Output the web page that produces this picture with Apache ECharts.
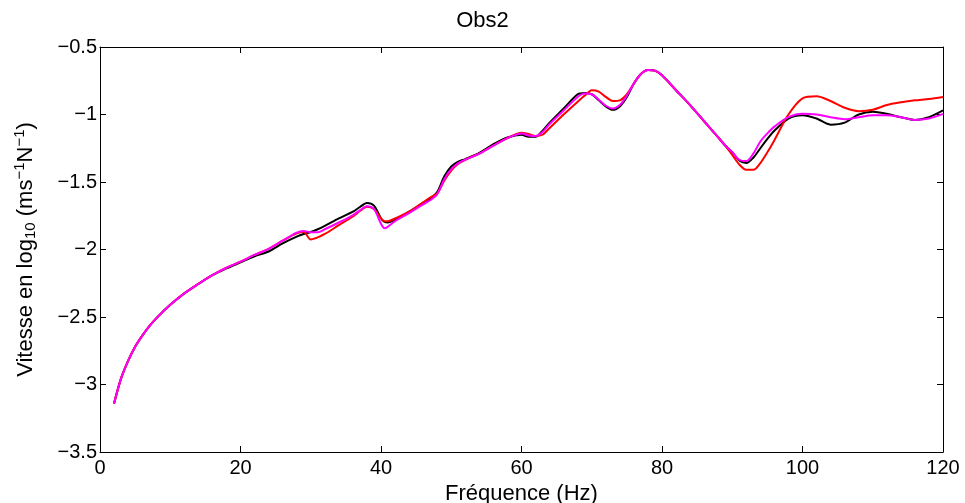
<!DOCTYPE html>
<html>
<head>
<meta charset="utf-8">
<script src="https://cdn.jsdelivr.net/npm/echarts@6/dist/echarts.min.js"></script>
<style>html,body{margin:0;padding:0;background:#fff}#c{width:965px;height:503px}</style>
</head>
<body>
<div id="c"></div>
<script>
var freq = [2,3,4,5,6,7,8,10,12,14,16,18,20,22,24,26,28,29,30,31,32,34,36,37,38,39,40,40.5,41,42,44,46,47,48,49,50,51,52,54,56,58,60,61,62,63,64,66,68,69,70,71,72,73,74,75,76,77,78,79,80,82,84,86,88,89,90,91,92,93,94,95,96,98,100,102,104,106,108,110,112,114,116,118,120];
var blackVals = [-3.14,-2.955,-2.825,-2.72,-2.64,-2.57,-2.51,-2.41,-2.325,-2.255,-2.19,-2.14,-2.095,-2.05,-2.015,-1.955,-1.905,-1.885,-1.87,-1.85,-1.825,-1.77,-1.72,-1.685,-1.655,-1.675,-1.77,-1.795,-1.80,-1.78,-1.72,-1.655,-1.625,-1.575,-1.46,-1.385,-1.35,-1.33,-1.285,-1.22,-1.17,-1.15,-1.165,-1.165,-1.12,-1.06,-0.955,-0.85,-0.84,-0.85,-0.895,-0.94,-0.965,-0.94,-0.87,-0.77,-0.70,-0.67,-0.675,-0.71,-0.82,-0.93,-1.05,-1.17,-1.23,-1.28,-1.34,-1.36,-1.32,-1.25,-1.18,-1.12,-1.03,-1.005,-1.03,-1.075,-1.06,-1.00,-0.98,-0.995,-1.02,-1.04,-1.02,-0.97];
var redVals = [-3.14,-2.955,-2.825,-2.72,-2.64,-2.57,-2.51,-2.41,-2.325,-2.255,-2.19,-2.135,-2.09,-2.04,-1.995,-1.935,-1.88,-1.87,-1.925,-1.91,-1.885,-1.82,-1.755,-1.715,-1.683,-1.70,-1.77,-1.79,-1.79,-1.77,-1.72,-1.65,-1.615,-1.585,-1.49,-1.415,-1.365,-1.335,-1.29,-1.23,-1.175,-1.135,-1.145,-1.16,-1.15,-1.10,-1.00,-0.905,-0.86,-0.82,-0.83,-0.87,-0.90,-0.895,-0.85,-0.77,-0.70,-0.67,-0.675,-0.71,-0.82,-0.93,-1.05,-1.17,-1.23,-1.30,-1.37,-1.41,-1.41,-1.36,-1.28,-1.19,-1.00,-0.88,-0.865,-0.90,-0.95,-0.975,-0.965,-0.93,-0.91,-0.895,-0.885,-0.87];
var magentaVals = [-3.14,-2.955,-2.825,-2.72,-2.64,-2.57,-2.51,-2.41,-2.325,-2.255,-2.19,-2.135,-2.09,-2.04,-1.995,-1.935,-1.875,-1.863,-1.872,-1.872,-1.85,-1.80,-1.745,-1.71,-1.68,-1.70,-1.81,-1.843,-1.83,-1.79,-1.73,-1.665,-1.635,-1.59,-1.48,-1.405,-1.36,-1.335,-1.29,-1.23,-1.175,-1.14,-1.155,-1.16,-1.13,-1.07,-0.97,-0.87,-0.845,-0.85,-0.89,-0.935,-0.955,-0.93,-0.86,-0.77,-0.70,-0.67,-0.675,-0.71,-0.82,-0.93,-1.05,-1.17,-1.23,-1.28,-1.335,-1.345,-1.29,-1.20,-1.14,-1.09,-1.02,-0.995,-1.00,-1.02,-1.035,-1.02,-1.005,-1.005,-1.02,-1.04,-1.03,-0.995];
var xTicks = [0,20,40,60,80,100,120];
var yTicks = [-3.5,-3,-2.5,-2,-1.5,-1,-0.5];
var titleText = 'Obs2';
var xName = 'Fréquence (Hz)';

function pairs(v){ return freq.map(function(f,i){ return [f, v[i]]; }); }
function fmtY(v){ return (v < 0 ? '\u2212' : '') + String(Math.abs(v)); }
var FONT = 'Liberation Sans';
var chart = echarts.init(document.getElementById('c'), null, {renderer:'canvas'});
var axisCommon = {
  axisLine:{show:true, onZero:false, lineStyle:{color:'#000', width:1}},
  axisTick:{show:true, inside:true, length:6, lineStyle:{color:'#000', width:1}},
  splitLine:{show:false}
};
chart.setOption({
  animation:false,
  backgroundColor:'#fff',
  title:{text:titleText, left:'center', top:5, textStyle:{fontFamily:FONT, fontSize:22, fontWeight:'normal', color:'#000'}},
  grid:{left:100, top:47, right:22, bottom:51, containLabel:false, outerBoundsMode:'none'},
  xAxis:[
    Object.assign({type:'value', position:'bottom', min:0, max:120, interval:20,
      name:xName, nameLocation:'middle', nameGap:30,
      nameTextStyle:{fontFamily:FONT, fontSize:22, color:'#000'},
      axisLabel:{fontFamily:FONT, fontSize:20, color:'#000', margin:6}}, axisCommon),
    Object.assign({type:'value', position:'top', min:0, max:120, interval:20, axisLabel:{show:false}}, axisCommon)
  ],
  yAxis:[
    Object.assign({type:'value', position:'left', min:-3.5, max:-0.5, interval:0.5,
      name:'Vitesse en log{sub|10} (ms{sup|\u22121}N{sup|\u22121})', nameLocation:'middle', nameGap:61, nameRotate:90,
      nameTextStyle:{fontFamily:FONT, fontSize:22, color:'#000',
        rich:{sub:{fontFamily:FONT, fontSize:15, color:'#000', padding:[10,0,0,0]},
              sup:{fontFamily:FONT, fontSize:15, color:'#000', padding:[0,0,12,0]}}},
      axisLabel:{fontFamily:FONT, fontSize:20, color:'#000', margin:3, formatter:fmtY}}, axisCommon),
    Object.assign({type:'value', position:'right', min:-3.5, max:-0.5, interval:0.5, axisLabel:{show:false}}, axisCommon)
  ],
  series:[
    {type:'line', name:'black', data:pairs(blackVals), showSymbol:false, smooth:0.3, lineStyle:{color:'#000000', width:2}, z:2},
    {type:'line', name:'red', data:pairs(redVals), showSymbol:false, smooth:0.3, lineStyle:{color:'#ff0000', width:2}, z:3},
    {type:'line', name:'magenta', data:pairs(magentaVals), showSymbol:false, smooth:0.3, lineStyle:{color:'#ff00ff', width:2}, z:4}
  ]
});
</script>
</body>
</html>
